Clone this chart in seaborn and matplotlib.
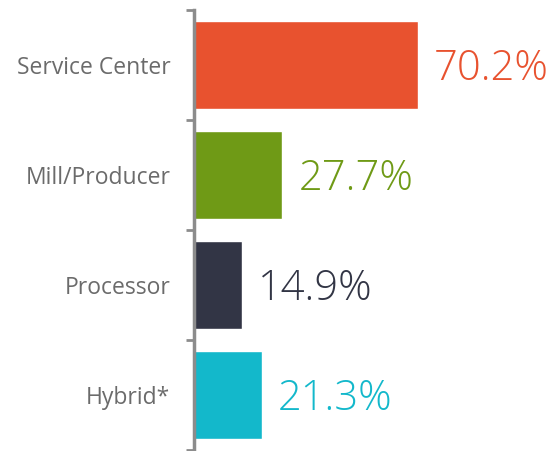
import matplotlib
matplotlib.use('Agg')
import matplotlib.pyplot as plt
import seaborn as sns
import pandas as pd

categories = ['Service Center', 'Mill/Producer', 'Processor', 'Hybrid*']
values = [70.2, 27.7, 14.9, 21.3]
colors = ['#E8522F', '#6F9A16', '#323545', '#13B8CB']

sns.set_style('white')
plt.rcParams['font.family'] = ['Open Sans', 'DejaVu Sans']

df = pd.DataFrame({'category': categories, 'value': values})

fig = plt.figure(figsize=(5.49, 4.51), dpi=100)
ax = fig.add_axes([194 / 549, 1 / 451, 355 / 549, 440 / 451])

sns.barplot(data=df, x='value', y='category', hue='category', palette=colors,
            legend=False, width=0.8, saturation=1, ax=ax)

ax.set_xlim(0, 355 / 3.19)
ax.set_ylim(3.5, -0.5)

for i, (v, c) in enumerate(zip(values, colors)):
    ax.text(v + 16 / 3.19, i + 0.03, f'{v:.1f}%', color=c, fontsize=30, fontweight='light',
            va='center', ha='left')

for s in ['top', 'right', 'bottom']:
    ax.spines[s].set_visible(False)
ax.spines['left'].set_color('#8C8C8C')
ax.spines['left'].set_linewidth(2.5)

ax.set_xticks([])
ax.set_xlabel('')
ax.set_ylabel('')
ax.set_yticks(range(4))
ax.set_yticklabels(categories, fontsize=16.5, color='#6B6B6B')
ax.tick_params(axis='y', which='major', left=False, length=0, pad=17)
ax.set_yticks([-0.5, 0.5, 1.5, 2.5, 3.5], minor=True)
ax.tick_params(axis='y', which='minor', left=True, length=6, width=2, color='#8C8C8C')

fig.savefig('out.png', dpi=100)
